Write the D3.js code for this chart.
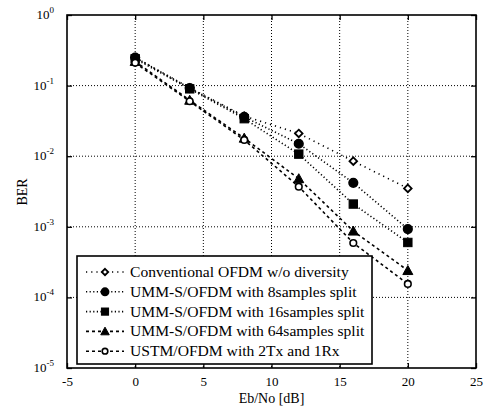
<!DOCTYPE html>
<html><head><meta charset="utf-8">
<script src="https://cdn.jsdelivr.net/npm/d3@7"></script>
<style>body{margin:0;background:#fff}svg{display:block}svg text{font-family:'Liberation Serif','Times New Roman',Times,'DejaVu Serif','Noto Serif',serif !important;fill:#000}</style>
</head><body><svg id="c" width="489" height="406"></svg>
<script>
const ebno = [0, 4, 8, 12, 16, 20];
const berConventional = [0.25, 0.093, 0.037, 0.021, 0.0085, 0.0035];
const ber8 = [0.25, 0.092, 0.036, 0.015, 0.0042, 0.00093];
const ber16 = [0.24, 0.09, 0.034, 0.0107, 0.0021, 0.0006];
const ber64 = [0.22, 0.062, 0.018, 0.0048, 0.00087, 0.00024];
const berUSTM = [0.21, 0.06, 0.017, 0.0037, 0.00059, 0.000155];
const seriesNames = ["Conventional OFDM w/o diversity","UMM-S/OFDM with 8samples split","UMM-S/OFDM with 16samples split","UMM-S/OFDM with 64samples split","USTM/OFDM with 2Tx and 1Rx"];
const xTicks = [-5, 0, 5, 10, 15, 20, 25];
const yExps = [0, -1, -2, -3, -4, -5];
const FONT = "'Liberation Serif','Times New Roman',Times,'DejaVu Serif',serif";

const series = [
  {name: seriesNames[0], v: berConventional, dash: "1.2,4", marker: "diamond", fill: false},
  {name: seriesNames[1], v: ber8, dash: "1.2,2.4", marker: "circle", fill: true},
  {name: seriesNames[2], v: ber16, dash: "1.2,2.4", marker: "square", fill: true},
  {name: seriesNames[3], v: ber64, dash: "3,3", marker: "triangle", fill: true},
  {name: seriesNames[4], v: berUSTM, dash: "3,3", marker: "circle", fill: false, small: true}
];

const svg = d3.select("#c").attr("font-family", FONT);
const L = 67, T = 15, R = 476, B = 368;
const x = d3.scaleLinear().domain([-5, 25]).range([L, R]);
const y = d3.scaleLog().domain([1e-5, 1]).range([B, T]);

// grid
const g = svg.append("g");
g.selectAll(".gx").data(xTicks.slice(1, -1)).join("line")
  .attr("x1", d => x(d)).attr("x2", d => x(d)).attr("y1", T).attr("y2", B)
  .attr("stroke", "#000").attr("stroke-width", 1).attr("stroke-dasharray", "1,2");
g.selectAll(".gy").data(yExps.slice(1, -1)).join("line")
  .attr("y1", d => y(Math.pow(10, d))).attr("y2", d => y(Math.pow(10, d))).attr("x1", L).attr("x2", R)
  .attr("stroke", "#000").attr("stroke-width", 1).attr("stroke-dasharray", "1,2");

// axes
const xAxis = d3.axisBottom(x).tickValues(xTicks).tickSize(-5).tickPadding(9).tickFormat(d => String(d));
const xg = svg.append("g").attr("transform", `translate(0,${B})`).call(xAxis).attr("font-family", FONT);
xg.select(".domain").remove();
xg.selectAll("line").attr("stroke-width", 1.3);
xg.selectAll("text").attr("font-size", 13).attr("font-family", FONT);
svg.append("g").attr("transform", `translate(0,${T})`).call(d3.axisTop(x).tickValues(xTicks).tickSize(-5).tickFormat(""))
  .call(s => { s.select(".domain").remove(); s.selectAll("line").attr("stroke-width", 1.3); });

const yAxis = d3.axisLeft(y).tickValues(yExps.map(e => Math.pow(10, e))).tickSize(-5).tickFormat("");
const yg = svg.append("g").attr("transform", `translate(${L},0)`).call(yAxis);
yg.select(".domain").remove();
yg.selectAll("line").attr("stroke-width", 1.3);
svg.append("g").attr("transform", `translate(${R},0)`).call(d3.axisRight(y).tickValues(yExps.map(e => Math.pow(10, e))).tickSize(-5).tickFormat(""))
  .call(s => { s.select(".domain").remove(); s.selectAll("line").attr("stroke-width", 1.3); });

const yl = svg.append("g").selectAll("text").data(yExps).join("text")
  .attr("x", 54).attr("y", d => y(Math.pow(10, d)) + 4).attr("text-anchor", "end").attr("font-size", 13).attr("font-family", FONT);
yl.append("tspan").text("10");
yl.append("tspan").attr("dy", -6).attr("font-size", 9).text(d => d === 0 ? "0" : String(d));

svg.append("rect").attr("x", L).attr("y", T).attr("width", R - L).attr("height", B - T)
  .attr("fill", "none").attr("stroke", "#000").attr("stroke-width", 1.6);

// titles
svg.append("text").attr("x", (L + R) / 2).attr("y", 403).attr("text-anchor", "middle").attr("font-size", 14).attr("font-family", FONT).text("Eb/No [dB]");
svg.append("text").attr("transform", "translate(27,192) rotate(-90)").attr("text-anchor", "middle").attr("font-size", 14).attr("font-family", FONT).text("BER");

function drawMarker(sel, s, cx, cy, scale) {
  const k = scale || 1;
  const stroke = "#000", fill = s.fill ? "#000" : "#fff";
  if (s.marker === "circle") {
    const r = (s.small ? 3.3 : 4.3) * k;
    sel.append("circle").attr("cx", cx).attr("cy", cy).attr("r", r).attr("fill", fill).attr("stroke", stroke).attr("stroke-width", 1.6);
  } else if (s.marker === "square") {
    const h = 4.2 * k;
    sel.append("rect").attr("x", cx - h).attr("y", cy - h).attr("width", 2 * h).attr("height", 2 * h).attr("fill", fill).attr("stroke", stroke).attr("stroke-width", 1);
  } else if (s.marker === "triangle") {
    const h = 5 * k;
    sel.append("path").attr("d", `M${cx},${cy - h}L${cx + h},${cy + h * 0.8}L${cx - h},${cy + h * 0.8}Z`).attr("fill", fill).attr("stroke", stroke).attr("stroke-width", 1);
  } else if (s.marker === "diamond") {
    const h = 3.8 * k;
    sel.append("path").attr("d", `M${cx},${cy - h}L${cx + h},${cy}L${cx},${cy + h}L${cx - h},${cy}Z`).attr("fill", fill).attr("stroke", stroke).attr("stroke-width", 1.8);
  }
}

const line = d3.line().x((d, i) => x(ebno[i])).y(d => y(d));
const plot = svg.append("g");
series.forEach(s => {
  plot.append("path").attr("d", line(s.v)).attr("fill", "none").attr("stroke", "#000")
    .attr("stroke-width", 1.6).attr("stroke-dasharray", s.dash);
});
series.forEach(s => {
  const mg = plot.append("g");
  s.v.forEach((v, i) => drawMarker(mg, s, x(ebno[i]), y(v)));
});

// legend
const lg = svg.append("g");
lg.append("rect").attr("x", 77).attr("y", 256).attr("width", 295).attr("height", 108)
  .attr("fill", "#fff").attr("stroke", "#000").attr("stroke-width", 1.6);
series.forEach((s, i) => {
  const yy = 272 + i * 19.8;
  lg.append("line").attr("x1", 86).attr("x2", 124).attr("y1", yy).attr("y2", yy)
    .attr("stroke", "#000").attr("stroke-width", 1.6).attr("stroke-dasharray", s.dash);
  drawMarker(lg, s, 105, yy, 0.85);
  lg.append("text").attr("x", 130).attr("y", yy + 5).attr("font-size", 15.6).attr("font-family", FONT).text(s.name);
});
</script></body></html>
